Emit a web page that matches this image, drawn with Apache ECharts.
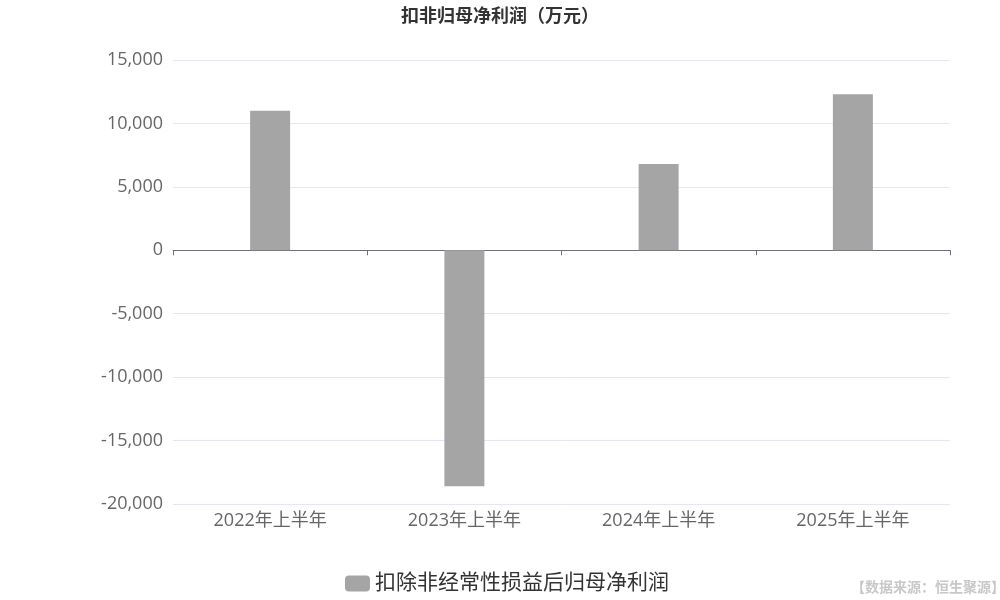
<!DOCTYPE html>
<html><head><meta charset="utf-8">
<script src="https://cdn.jsdelivr.net/npm/echarts@6/dist/echarts.min.js"></script>
<style>html,body{margin:0;padding:0;background:#fff}#c{width:1000px;height:600px}</style>
</head><body><div id="c"></div>
<script>
const categories = ['2022年上半年','2023年上半年','2024年上半年','2025年上半年'];
const values = [11000, -18600, 6800, 12300];
const seriesName = '扣除非经常性损益后归母净利润';
const titleText = '扣非归母净利润（万元）';
const sourceText = '【数据来源：恒生聚源】';

const chart = echarts.init(document.getElementById('c'));
chart.setOption({
  animation: false,
  textStyle: {fontFamily: '"Open Sans","Noto Sans CJK SC",sans-serif'},
  title: [{
    text: titleText, left: 'center', top: 3,
    textStyle: {fontSize: 18, fontWeight: 'bold', color: '#333', fontFamily: '"Open Sans","Noto Sans CJK SC",sans-serif'}
  }, {
    text: sourceText, right: -10, bottom: 1,
    textStyle: {fontSize: 14, fontWeight: 'bold', color: '#c8c8c8', fontFamily: '"Noto Sans CJK SC",sans-serif'}
  }],
  grid: {left: 173, right: 50, top: 60, bottom: 96},
  legend: {
    bottom: 1, left: 340, itemWidth: 25, itemHeight: 16, itemGap: 5,
    textStyle: {fontSize: 21, color: '#333'},
    data: [seriesName]
  },
  xAxis: {
    type: 'category', data: categories,
    axisLine: {onZero: true, lineStyle: {color: '#6e7079'}},
    axisTick: {show: true, alignWithLabel: false, lineStyle: {color: '#6e7079'}},
    axisLabel: {fontSize: 18, color: '#666', margin: 8},
    position: 'bottom'
  },
  yAxis: {
    type: 'value', min: -20000, max: 15000, interval: 5000,
    axisLabel: {fontSize: 18, color: '#666', margin: 10,
      formatter: function(v){return v.toLocaleString('en-US');}},
    splitLine: {lineStyle: {color: '#e6e6f0'}},
    axisLine: {show: false}, axisTick: {show: false}
  },
  series: [{
    name: seriesName, type: 'bar', data: values, barWidth: 40,
    itemStyle: {color: '#a5a5a5'}
  }]
});
</script></body></html>
